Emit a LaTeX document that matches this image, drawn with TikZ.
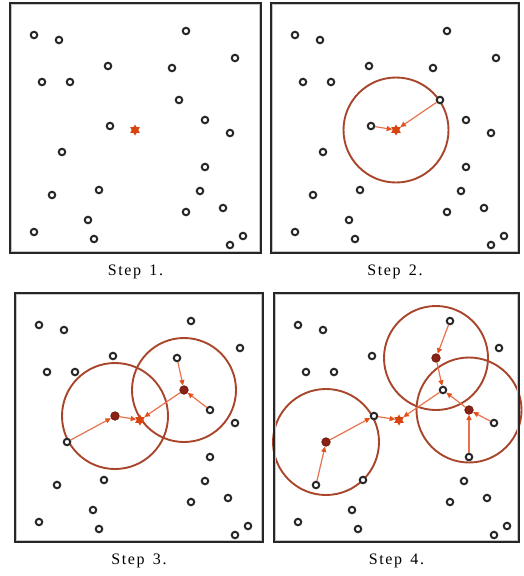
\documentclass[tikz,border=0pt]{standalone}
\usepackage{fontspec}
\setmainfont{Liberation Serif}
\newfontfamily\capfont[LetterSpace=10]{Liberation Serif}
\usetikzlibrary{positioning, arrows.meta, shapes.geometric, backgrounds}

\definecolor{ringred}{HTML}{A8452B}
\definecolor{flowred}{HTML}{E8724C}
\definecolor{tipred}{HTML}{E2501C}
\definecolor{seedred}{HTML}{8C2214}
\definecolor{starred}{HTML}{D8440F}

% point number / x / y / look in step 3 / look in step 4
\newcommand{\pointlist}{
    1/24/32/pt/pt, 2/49/37/pt/pt, 3/176/28/pt/pt, 4/225/55/pt/pt,
    5/98/63/pt/pt, 6/162/65/pt/seed, 7/32/79/pt/pt, 8/60/79/pt/pt,
    9/169/97/seed/pt, 10/195/117/pt/seed, 11/100/123/seed/pt, 12/220/130/pt/pt,
    13/52/149/pt/seed, 14/195/164/pt/pt, 15/42/192/pt/pt, 16/89/187/pt/pt,
    17/190/188/pt/pt, 18/213/205/pt/pt, 19/176/209/pt/pt, 20/78/217/pt/pt,
    21/24/229/pt/pt, 22/84/236/pt/pt, 23/233/233/pt/pt, 24/220/242/pt/pt}

\begin{document}
\begin{tikzpicture}[
    x=1pt, y=-1pt,
    >={Triangle[length=5.5pt, width=5pt, color=tipred]},
    frame/.style={draw=black!85, line width=1.8pt, inner sep=0pt, outer sep=0pt, anchor=north west,
        path picture={\draw[gray!45, line width=3.6pt] (path picture bounding box.south west) rectangle (path picture bounding box.north east);}},
    pt/.style={circle, draw=black!85, fill=white, line width=2pt, minimum size=6.5pt, inner sep=0pt},
    seed/.style={circle, draw=seedred!70!black, fill=seedred, line width=0.7pt, minimum size=8.5pt, inner sep=0pt},
    start/.style={star, star points=6, star point ratio=1.7, fill=starred, minimum size=11pt, inner sep=0pt},
    flow/.style={->, draw=flowred, line width=1.2pt},
    reach/.style={draw=ringred, line width=1.9pt},
    caption/.style={font=\capfont\fontsize{16}{18}\selectfont, inner sep=0pt}
]

\useasboundingbox (0,0) rectangle (523,576);

% ================= Panels =================

\foreach \p/\ox/\oy/\w/\h [count=\n] in {a/10/3/251/250, b/271/3/248/250, c/15/293/248/249, d/274/293/245/249} {
    \begin{scope}[shift={(\ox,\oy)}]
        \node[frame, minimum width=\w pt, minimum height=\h pt] (\p frame) at (0,0) {};
        \foreach \i/\px/\py/\kc/\kd in \pointlist {
            \ifnum\n=3 \let\kind\kc \else\ifnum\n=4 \let\kind\kd \else \def\kind{pt}\fi\fi
            \node[\kind] (\p\i) at (\px,\py) {};
        }
        \node[start] (\p s) at (125,127) {};
    \end{scope}
    \node[caption, below=12pt of \p frame] (\p cap) {Step~\,\n.};
}

% ================= Circles =================

\begin{scope}[on background layer]
    \draw[reach] (bs) circle[radius=52.5pt];
    \draw[reach] (c11) circle[radius=53pt];
    \draw[reach] (c9) circle[radius=52pt];
    \draw[reach] (d13) circle[radius=53pt];
    \draw[reach] (d6) circle[radius=52pt];
    \draw[reach] (d10) circle[radius=52.5pt];
\end{scope}

% ================= Edges =================

% Step 2
\draw[flow] (b11) -- (bs);
\draw[flow] (b9) -- (bs);

% Step 3
\draw[flow] (c13) -- (c11);
\draw[flow] (c11) -- (cs);
\draw[flow] (c6) -- (c9);
\draw[flow] (c10) -- (c9);
\draw[flow] (c9) -- (cs);

% Step 4
\draw[flow] (d15) -- (d13);
\draw[flow] (d13) -- (d11);
\draw[flow] (d11) -- (ds);
\draw[flow] (d3) -- (d6);
\draw[flow] (d6) -- (d9);
\draw[flow] (d14) -- (d10);
\draw[flow] (d12) -- (d10);
\draw[flow] (d10) -- (d9);
\draw[flow] (d9) -- (ds);

\end{tikzpicture}
\end{document}
